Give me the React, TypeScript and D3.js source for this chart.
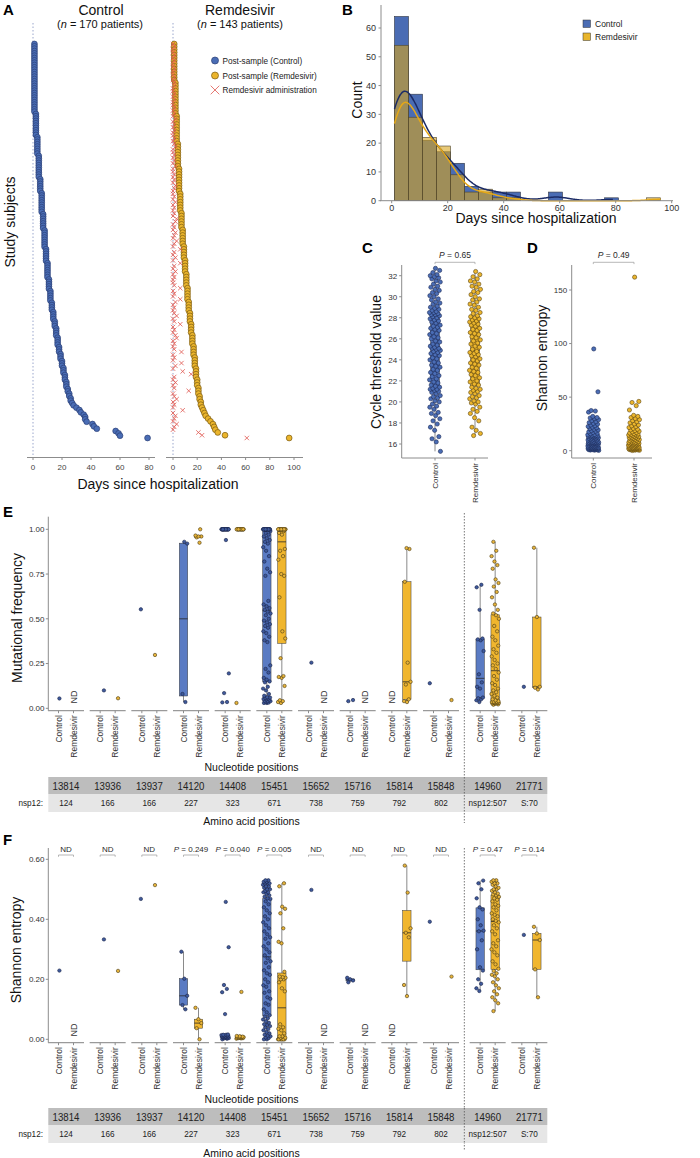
import React from 'react';
import * as d3 from 'd3';

const FONT = "'Liberation Sans', Arial, Helvetica, sans-serif";
const AX = '#8c8c8c';
const TXT = '#2a2a2a';
const C_FILL = '#4a6db5';
const C_STROKE = '#1e2c57';
const R_FILL = '#ebb52c';
const R_STROKE = '#5c4612';
const C_BOX = '#5a7bc3';
const R_BOX = '#f0b62e';

// ---------- Panel A / B data (days since hospitalization, run-length: [day, patients]) ----------
const controlDayRuns: [number, number][] = [
  [1, 30], [2, 10], [3, 8], [4, 10], [5, 6], [6, 9], [7, 7], [8, 8], [9, 6], [10, 7],
  [11, 5], [12, 5], [13, 4], [14, 4], [15, 3], [16, 4], [17, 4], [18, 3], [19, 3], [20, 3],
  [21, 3], [22, 3], [23, 3], [24, 2], [25, 2], [26, 2], [27, 1], [28, 1], [30, 1], [32, 1],
  [33, 1], [35, 1], [36, 2], [37, 1], [41, 1], [42, 1], [44, 1], [57, 1], [59, 1], [60, 1], [79, 1],
];
const remDayRuns: [number, number][] = [
  [1, 14], [2, 12], [3, 10], [4, 9], [5, 9], [6, 7], [7, 6], [8, 6], [9, 5], [10, 5],
  [11, 5], [12, 5], [13, 4], [14, 4], [15, 4], [16, 4], [17, 4], [18, 4], [19, 4], [20, 3],
  [21, 3], [22, 2], [23, 2], [24, 1], [25, 1], [26, 1], [27, 1], [29, 1], [31, 1], [33, 1],
  [34, 1], [35, 1], [37, 1], [43, 1], [96, 1],
];
const remAdminDays: number[] = [
  0, 1, 0, 0, 1, 0, 1, 0, 0, 1,
  0, 0, 1, 0, 1, 1, 0, 0, 1, 0,
  1, 0, 0, 1, 0, 1, 0, 2, 0, 1,
  0, 1, 0, 0, 1, 0, 1, 2, 0, 0,
  1, 0, 1, 0, 2, 0, 0, 1, 0, 1,
  0, 2, 1, 0, 0, 1, 0, 2, 0, 1,
  0, 1, 0, 3, 2, 0, 1, 0, 2, 1,
  0, 3, 1, 0, 6, 1, 0, 2, 0, 6,
  1, 0, 2, 0, 1, 0, 0, 1, 6, 0,
  1, 0, 6, 2, 0, 1, 0, 1, 3, 0,
  1, 6, 0, 1, 0, 2, 3, 0, 1, 0,
  1, 7, 0, 1, 0, 7, 2, 0, 8, 15,
  1, 0, 2, 0, 1, 13, 0, 1, 3, 0,
  1, 0, 8, 0, 2, 1, 0, 3, 1, 0,
  21, 24, 61,
];
const expandRuns = (runs: [number, number][]) => runs.flatMap(([d, n]) => Array.from({ length: n }, () => d));
const controlDays = expandRuns(controlDayRuns);
const remDays = expandRuns(remDayRuns);

// ---------- Panel C (cycle threshold) ----------
const ctControl = [
  15.3, 16.2, 16.5, 16.7, 17.3, 17.6, 17.9, 18.2, 18.4, 18.7, 18.9, 19.0, 19.3, 19.5, 19.6, 19.8, 20.0, 20.1, 20.3, 20.4,
  20.5, 20.6, 20.8, 20.9, 21.0, 21.1, 21.2, 21.2, 21.3, 21.4, 21.5, 21.6, 21.8, 21.9, 22.1, 22.2, 22.4, 22.5, 22.7, 22.8,
  23.0, 23.1, 23.3, 23.4, 23.5, 23.7, 23.8, 24.0, 24.1, 24.2, 24.4, 24.5, 24.6, 24.7, 24.8, 24.9, 25.0, 25.1, 25.1, 25.2,
  25.3, 25.4, 25.5, 25.7, 25.8, 26.0, 26.1, 26.2, 26.4, 26.5, 26.6, 26.8, 26.9, 27.0, 27.1, 27.2, 27.3, 27.5, 27.6, 27.7,
  27.8, 27.9, 28.0, 28.1, 28.2, 28.3, 28.3, 28.4, 28.5, 28.5, 28.6, 28.7, 28.8, 28.9, 29.0, 29.1, 29.3, 29.4, 29.5, 29.7,
  29.8, 30.0, 30.1, 30.3, 30.4, 30.6, 30.7, 30.9, 31.0, 31.2, 31.4, 31.5, 31.7, 31.8, 31.9, 32.0, 32.1, 32.3, 32.5, 32.7,
];
const ctRem = [
  16.8, 17.0, 17.3, 17.6, 18.2, 18.5, 18.9, 19.1, 19.3, 19.5, 19.8, 19.9, 20.0, 20.1, 20.3, 20.4, 20.5, 20.6, 20.8, 20.9,
  21.0, 21.1, 21.2, 21.3, 21.4, 21.6, 21.7, 21.9, 22.0, 22.2, 22.3, 22.5, 22.6, 22.8, 22.9, 23.0, 23.2, 23.3, 23.5, 23.6,
  23.7, 23.9, 24.0, 24.1, 24.3, 24.4, 24.5, 24.6, 24.7, 24.8, 25.0, 25.2, 25.3, 25.5, 25.6, 25.8, 25.9, 26.1, 26.2, 26.4,
  26.5, 26.6, 26.8, 26.9, 27.0, 27.2, 27.3, 27.4, 27.5, 27.6, 27.7, 27.8, 27.9, 28.0, 28.1, 28.2, 28.4, 28.5, 28.7, 28.8,
  29.0, 29.2, 29.3, 29.5, 29.7, 29.8, 30.0, 30.2, 30.4, 30.5, 30.7, 30.9, 31.0, 31.2, 31.4, 31.5, 31.7, 31.9, 32.1, 32.4,
];

// ---------- Panel D (Shannon entropy per patient) ----------
const entropyControl = [
  0.3, 0.5, 0.6, 0.8, 0.9, 1.0, 1.1, 1.2, 1.4, 1.5, 1.6, 1.7, 1.8, 1.9, 2.0, 2.1, 2.2, 2.3, 2.4, 2.5,
  2.6, 2.7, 2.8, 2.9, 3.0, 3.1, 3.2, 3.3, 3.4, 3.5, 3.7, 3.9, 4.0, 4.2, 4.4, 4.5, 4.7, 4.9, 5.0, 5.2,
  5.4, 5.5, 5.7, 5.9, 6.0, 6.2, 6.4, 6.5, 6.7, 6.9, 7.0, 7.1, 7.2, 7.3, 7.4, 7.5, 7.6, 7.7, 7.8, 7.9,
  8.1, 8.3, 8.5, 8.8, 9.0, 9.3, 9.5, 9.8, 10.0, 10.3, 10.5, 10.8, 11.0, 11.3, 11.5, 11.8, 12.0, 12.3, 12.5, 12.8,
  13.0, 13.2, 13.4, 13.6, 13.8, 14.0, 14.2, 14.4, 14.6, 14.8, 15.2, 15.8, 16.4, 17.0, 17.6, 18.2, 18.8, 19.4, 20.0, 20.7,
  21.4, 22.0, 22.6, 23.3, 24.0, 24.8, 25.5, 26.2, 27.0, 28.0, 29.0, 30.0, 30.5, 31.0, 32.0, 36.0, 37.0, 37.5, 55.0, 95.0,
];
const entropyRem = [
  0.2, 0.4, 0.5, 0.7, 0.8, 1.0, 1.1, 1.2, 1.3, 1.5, 1.6, 1.7, 1.8, 1.9, 2.0, 2.1, 2.2, 2.3, 2.4, 2.5,
  2.6, 2.7, 2.8, 2.9, 3.0, 3.2, 3.4, 3.6, 3.8, 4.0, 4.2, 4.4, 4.6, 4.8, 5.0, 5.2, 5.4, 5.6, 5.8, 6.0,
  6.2, 6.4, 6.6, 6.8, 7.0, 7.2, 7.4, 7.6, 7.8, 8.0, 8.3, 8.6, 9.0, 9.3, 9.6, 10.0, 10.3, 10.6, 11.0, 11.3,
  11.6, 12.0, 12.3, 12.6, 13.0, 13.3, 13.6, 14.0, 14.3, 14.6, 15.0, 15.3, 15.6, 16.0, 16.5, 17.0, 17.6, 18.2, 18.8, 19.4,
  20.0, 20.8, 21.6, 22.4, 23.2, 24.0, 25.0, 26.0, 27.0, 28.0, 29.0, 30.0, 31.0, 32.0, 33.0, 38.0, 42.0, 45.0, 46.0, 162.0,
];

// ---------- Panels E / F ----------
const nucleotidePositions = ['13814', '13936', '13937', '14120', '14408', '15451', '15652', '15716', '15814', '15848', '14960', '21771'];
const aminoAcidPositions = ['124', '166', '166', '227', '323', '671', '738', '759', '792', '802', 'nsp12:507', 'S:70'];
const ones = (n: number) => Array.from({ length: n }, () => 1);

const mutFreqControl: number[][] = [
  [0.055],
  [0.10],
  [0.553],
  [0.035, 0.08, 0.92, 0.93],
  [0.033, 0.035, 0.085, 0.195, 0.94, ...ones(22)],
  [0.03, 0.03, 0.032, 0.035, 0.04, 0.04, 0.042, 0.048, 0.05, 0.052, 0.055, 0.058, 0.06, 0.062, 0.07, 0.08, 0.1, 0.11, 0.12, 0.145,
    0.15, 0.16, 0.17, 0.2, 0.22, 0.24, 0.37, 0.38, 0.4, 0.42, 0.43, 0.45, 0.46, 0.47, 0.48, 0.49, 0.5, 0.52, 0.53, 0.54,
    0.55, 0.56, 0.57, 0.58, 0.6, 0.74, 0.76, 0.78, 0.82, 0.85, 0.88, 0.9, 0.92, 0.93, 0.94, 0.95, 0.96, 0.97, 0.98, 0.99,
    ...ones(20)],
  [0.255],
  [0.04, 0.046],
  [],
  [0.14],
  [0.035, 0.045, 0.05, 0.056, 0.06, 0.11, 0.12, 0.145, 0.19, 0.32, 0.38, 0.385, 0.39, 0.55, 0.676, 0.69],
  [0.12],
];
const mutFreqRem: number[][] = [
  [],
  [0.056],
  [0.298],
  [0.925, 0.955, 0.96, 0.96, 0.965, 1.0],
  [0.03, ...ones(16)],
  [0.03, 0.035, 0.04, 0.045, 0.125, 0.17, 0.175, 0.18, 0.28, 0.39, 0.43, 0.62, 0.74, 0.75, 0.83, 0.85, 0.88, 0.89, 0.97, 0.98, 0.99, ...ones(15)],
  [],
  [],
  [0.035, 0.04, 0.05, 0.133, 0.148, 0.255, 0.707, 0.89, 0.895],
  [0.046],
  [0.02, 0.022, 0.025, 0.027, 0.028, 0.03, 0.03, 0.031, 0.032, 0.033, 0.034, 0.035, 0.036, 0.037,
    0.04, 0.045, 0.05, 0.06, 0.07, 0.08, 0.09, 0.1, 0.11, 0.13, 0.14, 0.16, 0.18, 0.2,
    0.22, 0.24, 0.25, 0.27, 0.29, 0.31, 0.33, 0.35, 0.38, 0.4, 0.43, 0.46, 0.5, 0.52,
    0.53, 0.55, 0.58, 0.62, 0.65, 0.68, 0.7, 0.72, 0.78, 0.8, 0.82, 0.85, 0.88, 0.93],
  [0.105, 0.115, 0.12, 0.51, 0.897],
];

const entControl: number[][] = [
  [0.229],
  [0.333],
  [0.468],
  [0.10, 0.114, 0.145, 0.202, 0.292],
  [0.0, 0.002, 0.003, 0.004, 0.005, 0.005, 0.006, 0.007, 0.008, 0.008, 0.009, 0.01, 0.01, 0.011, 0.012, 0.013, 0.014, 0.015, 0.015, 0.016,
    0.084, 0.157, 0.168, 0.181, 0.307, 0.458],
  [0.0, 0.0, 0.004, 0.006, 0.01, 0.012, 0.015, 0.02, 0.024, 0.03, 0.034, 0.04, 0.044, 0.048, 0.05, 0.055, 0.06, 0.066, 0.07, 0.076,
    0.08, 0.09, 0.1, 0.115, 0.12, 0.135, 0.14, 0.155, 0.16, 0.175, 0.18, 0.19, 0.2, 0.215, 0.22, 0.23, 0.24, 0.255, 0.26, 0.27,
    0.28, 0.29, 0.3, 0.31, 0.32, 0.335, 0.34, 0.35, 0.36, 0.37, 0.38, 0.39, 0.4, 0.41, 0.42, 0.43, 0.44, 0.45, 0.46, 0.468,
    0.47, 0.475, 0.48, 0.485, 0.49, 0.49, 0.495, 0.5, 0.5, 0.505, 0.51, 0.51, 0.515, 0.52, 0.52, 0.52, 0.525, 0.525, 0.53, 0.53],
  [0.498],
  [0.19, 0.196, 0.2, 0.205],
  [],
  [0.392],
  [0.161, 0.17, 0.185, 0.2, 0.229, 0.24, 0.3, 0.33, 0.36, 0.362, 0.38, 0.4, 0.433, 0.44, 0.47, 0.5, 0.52, 0.529],
  [0.348],
];
const entRem: number[][] = [
  [],
  [0.228],
  [0.514],
  [0.0, 0.037, 0.054, 0.067, 0.105],
  [0.002, 0.003, 0.004, 0.004, 0.005, 0.005, 0.006, 0.006, 0.007, 0.008, 0.008, 0.009, 0.01, 0.011, 0.158],
  [0, 0, 0, 0, 0, 0, 0, 0, 0.005, 0.005, 0.01, 0.01, 0.02, 0.03, 0.035, 0.04, 0.05,
    0.16, 0.17, 0.19, 0.2, 0.2, 0.205, 0.207, 0.209, 0.225, 0.32, 0.325, 0.37, 0.42, 0.435, 0.442, 0.51, 0.52],
  [],
  [],
  [0.144, 0.181, 0.34, 0.355, 0.37, 0.489, 0.579],
  [0.209],
  [0.094, 0.12, 0.13, 0.14, 0.15, 0.16, 0.17, 0.18, 0.19, 0.2, 0.21, 0.215, 0.22, 0.228,
    0.235, 0.25, 0.26, 0.28, 0.29, 0.3, 0.31, 0.32, 0.33, 0.35, 0.36, 0.37, 0.38, 0.39,
    0.395, 0.4, 0.41, 0.415, 0.42, 0.43, 0.44, 0.445, 0.45, 0.46, 0.465, 0.47, 0.475, 0.48,
    0.483, 0.486, 0.49, 0.495, 0.5, 0.5, 0.505, 0.51, 0.515, 0.52, 0.52, 0.525, 0.53, 0.53],
  [0.14, 0.233, 0.331, 0.353, 0.375],
];
const fTopLabels = ['ND', 'ND', 'ND', 'P = 0.249', 'P = 0.040', 'P = 0.005', 'ND', 'ND', 'ND', 'ND', 'P = 0.47', 'P = 0.14'];

// ---------- helpers ----------
const jit = (i: number, seed: number) => ((((i + 1) * 0.6180339887 + seed * 0.377) % 1) - 0.5);

function boxStats(vals: number[]) {
  const s = [...vals].sort(d3.ascending);
  const q1 = d3.quantileSorted(s, 0.25) as number;
  const med = d3.quantileSorted(s, 0.5) as number;
  const q3 = d3.quantileSorted(s, 0.75) as number;
  const iqr = q3 - q1;
  const lo = d3.min(s.filter((v) => v >= q1 - 1.5 * iqr)) as number;
  const hi = d3.max(s.filter((v) => v <= q3 + 1.5 * iqr)) as number;
  return { q1, med, q3, lo, hi };
}

function T({ x, y, children, size = 8, anchor = 'start', rotate = 0, sx = 1, weight = 400, fill = TXT, italic = false }: any) {
  return (
    <text transform={`translate(${x},${y}) rotate(${rotate}) scale(${sx},1)`} fontSize={size} textAnchor={anchor}
      fontWeight={weight} fill={fill} fontFamily={FONT} fontStyle={italic ? 'italic' : 'normal'}>{children}</text>
  );
}

function PLabel({ x, y, text, size = 8 }: any) {
  const isP = text.startsWith('P');
  return (
    <text x={x} y={y} fontSize={size} textAnchor="middle" fill={TXT} fontFamily={FONT}>
      {isP ? (<><tspan fontStyle="italic">P</tspan>{text.slice(1)}</>) : text}
    </text>
  );
}

function Bracket({ x1, x2, y }: any) {
  return <path d={`M${x1},${y + 1.8}V${y}H${x2}V${y + 1.8}`} fill="none" stroke="#9a9a9a" strokeWidth={0.7} />;
}

function BoxAndPoints({ cx, vals, y, half, boxFill, ptFill, ptStroke, r, jw, seed }: any) {
  if (!vals.length) return null;
  const st = vals.length >= 3 ? boxStats(vals) : null;
  return (
    <g>
      {st && (
        <g>
          <line x1={cx} x2={cx} y1={y(st.lo)} y2={y(st.hi)} stroke="#8a8a8a" strokeWidth={1} />
          <rect x={cx - half} width={half * 2} y={y(st.q3)} height={Math.max(0.6, y(st.q1) - y(st.q3))}
            fill={boxFill} stroke="#3a3a3a" strokeWidth={0.5} />
          <line x1={cx - half} x2={cx + half} y1={y(st.med)} y2={y(st.med)} stroke="#2a2a2a" strokeWidth={0.8} />
        </g>
      )}
      {vals.map((v: number, i: number) => (
        <circle key={i} cx={cx + jit(i, seed) * 2 * jw} cy={y(v)} r={r} fill={ptFill} stroke={ptStroke} strokeWidth={0.6} />
      ))}
    </g>
  );
}

// ---------- Panel A ----------
function PanelA() {
  const xC = d3.scaleLinear().domain([0, 80]).range([33, 149]);
  const xR = d3.scaleLinear().domain([0, 100]).range([173, 294]);
  const yC = d3.scaleLinear().domain([0, controlDays.length - 1]).range([44, 438]);
  const yR = d3.scaleLinear().domain([0, remDays.length - 1]).range([44, 438]);
  const axisY = 457.5;
  const cross = (x: number, y: number, s: number, k: any) => (
    <path key={k} d={`M${x - s},${y - s}L${x + s},${y + s}M${x - s},${y + s}L${x + s},${y - s}`} stroke="#e0574f" strokeWidth={0.8} fill="none" />
  );
  return (
    <g>
      <T x={3} y={15} size={15} weight={700} fill="#000">A</T>
      <T x={101} y={15} size={14} anchor="middle" fill="#111">Control</T>
      <text x={100} y={28} fontSize={11} textAnchor="middle" fill="#111" fontFamily={FONT}>(<tspan fontStyle="italic">n</tspan> = 170 patients)</text>
      <T x={240} y={15} size={14} anchor="middle" fill="#111">Remdesivir</T>
      <text x={240} y={28} fontSize={11} textAnchor="middle" fill="#111" fontFamily={FONT}>(<tspan fontStyle="italic">n</tspan> = 143 patients)</text>
      <T x={15} y={222} size={14} anchor="middle" rotate={-90} fill="#111">Study subjects</T>

      <line x1={xC(0)} x2={xC(0)} y1={23} y2={axisY} stroke="#9aa6cc" strokeWidth={1} strokeDasharray="1.5,2" />
      <line x1={xR(0)} x2={xR(0)} y1={23} y2={axisY} stroke="#9aa6cc" strokeWidth={1} strokeDasharray="1.5,2" />

      <line x1={27} x2={155} y1={axisY} y2={axisY} stroke={AX} strokeWidth={1} />
      {xC.ticks(4).map((t) => (
        <g key={'c' + t}>
          <line x1={xC(t)} x2={xC(t)} y1={axisY} y2={axisY + 2.5} stroke={AX} />
          <T x={xC(t)} y={470} size={8} anchor="middle" fill="#444">{t}</T>
        </g>
      ))}
      <line x1={166} x2={303} y1={axisY} y2={axisY} stroke={AX} strokeWidth={1} />
      {[0, 20, 40, 60, 80, 100].map((t) => (
        <g key={'r' + t}>
          <line x1={xR(t)} x2={xR(t)} y1={axisY} y2={axisY + 2.5} stroke={AX} />
          <T x={xR(t)} y={470} size={8} anchor="middle" fill="#444">{t}</T>
        </g>
      ))}
      <T x={158} y={489} size={14} anchor="middle" fill="#111">Days since hospitalization</T>

      {controlDays.map((d, i) => (
        <circle key={'cp' + i} cx={xC(d)} cy={yC(i)} r={2.9} fill={C_FILL} stroke="#2b3f75" strokeWidth={0.7} />
      ))}
      {remDays.map((d, i) => (
        <circle key={'rp' + i} cx={xR(d)} cy={yR(i)} r={2.9} fill={R_FILL} stroke="#7a5a12" strokeWidth={0.7} />
      ))}
      {remAdminDays.map((d, i) => cross(xR(d), yR(i), 2.2, 'x' + i))}

      {/* legend */}
      <circle cx={215} cy={60.5} r={3.5} fill={C_FILL} stroke="#2b3f75" strokeWidth={0.7} />
      <T x={222.5} y={63.5} size={8.2} fill="#222">Post-sample (Control)</T>
      <circle cx={215} cy={75.5} r={3.5} fill={R_FILL} stroke="#7a5a12" strokeWidth={0.7} />
      <T x={222.5} y={78.5} size={8.2} fill="#222">Post-sample (Remdesivir)</T>
      {cross(215, 90, 4.3, 'lx')}
      <T x={222.5} y={93} size={8.2} fill="#222">Remdesivir administration</T>
    </g>
  );
}

// ---------- Panel B ----------
function kdeCounts(data: number[], binWidth: number) {
  const n = data.length;
  const sd = d3.deviation(data) as number;
  const h = sd * Math.pow(n, -0.2);
  const lo = d3.min(data) as number, hi = d3.max(data) as number;
  const xs = d3.range(lo, hi + 0.001, 0.5);
  return xs.map((x) => [x, (d3.sum(data, (v) => Math.exp(-0.5 * ((x - v) / h) ** 2)) / (n * h * Math.sqrt(2 * Math.PI))) * n * binWidth] as [number, number]);
}

function PanelB() {
  const x = d3.scaleLinear().domain([0, 100]).range([391.7, 671.7]);
  const y = d3.scaleLinear().domain([0, 60]).range([200.7, 28]);
  const binner = d3.bin().domain([1, 96]).thresholds(d3.range(6, 96, 5));
  const cb = binner(controlDays);
  const rb = binner(remDays);
  const line = d3.line<[number, number]>().x((d) => x(d[0])).y((d) => y(d[1])).curve(d3.curveBasis);
  const kc = kdeCounts(controlDays, 5);
  const kr = kdeCounts(remDays, 5);
  return (
    <g>
      <T x={342} y={15} size={15} weight={700} fill="#000">B</T>
      {cb.filter((b) => b.length > 0).map((b, i) => (
        <rect key={'cb' + i} x={x(b.x0 as number)} width={x(b.x1 as number) - x(b.x0 as number)} y={y(b.length)} height={y(0) - y(b.length)}
          fill="#4a6cb4" stroke="#2f3440" strokeWidth={0.6} />
      ))}
      {rb.filter((b) => b.length > 0).map((b, i) => (
        <rect key={'rb' + i} x={x(b.x0 as number)} width={x(b.x1 as number) - x(b.x0 as number)} y={y(b.length)} height={y(0) - y(b.length)}
          fill="#d9a51c" fillOpacity={0.6} stroke="#4a4330" strokeWidth={0.6} />
      ))}
      <path d={line(kc) as string} fill="none" stroke="#1b2b66" strokeWidth={1.5} />
      <path d={line(kr) as string} fill="none" stroke="#e6a816" strokeWidth={1.5} />

      <line x1={381} x2={381} y1={5} y2={200.7} stroke={AX} />
      {y.ticks(6).map((t) => (
        <g key={'by' + t}>
          <line x1={378.5} x2={381} y1={y(t)} y2={y(t)} stroke={AX} />
          <T x={376} y={y(t) + 3.2} size={9} anchor="end" fill="#333">{t}</T>
        </g>
      ))}
      <line x1={380} x2={673} y1={200.7} y2={200.7} stroke={AX} />
      {x.ticks(5).map((t) => (
        <g key={'bx' + t}>
          <line x1={x(t)} x2={x(t)} y1={200.7} y2={203.2} stroke={AX} />
          <T x={x(t)} y={210.5} size={9} anchor="middle" fill="#333">{t}</T>
        </g>
      ))}
      <T x={361.5} y={100} size={14} anchor="middle" rotate={-90} fill="#111">Count</T>
      <T x={536} y={223} size={14} anchor="middle" fill="#111">Days since hospitalization</T>

      <rect x={583} y={20} width={7.5} height={7.5} fill="#4a6cb4" stroke="#333" strokeWidth={0.5} />
      <T x={595} y={26.8} size={8.5} fill="#222">Control</T>
      <rect x={583} y={33} width={7.5} height={7.5} fill="#e8b52c" stroke="#333" strokeWidth={0.5} />
      <T x={595} y={39.8} size={8.5} fill="#222">Remdesivir</T>
    </g>
  );
}

// ---------- Panels C / D ----------
function TwoGroup({ axisX, xEnd, y, ticks, fmt, cx, rx, ctrl, rem, p, ylabel, ylabelX, ylabelY }: any) {
  return (
    <g>
      <BoxAndPoints cx={cx} vals={ctrl} y={y} half={4.5} boxFill={C_BOX} ptFill={C_FILL} ptStroke={C_STROKE} r={2.1} jw={5.5} seed={1} />
      <BoxAndPoints cx={rx} vals={rem} y={y} half={4.5} boxFill={R_BOX} ptFill={R_FILL} ptStroke={R_STROKE} r={2.1} jw={5.5} seed={2} />
      <line x1={axisX} x2={axisX} y1={265} y2={458} stroke={AX} />
      <line x1={axisX} x2={xEnd} y1={458} y2={458} stroke={AX} />
      {ticks.map((t: number) => (
        <g key={t}>
          <line x1={axisX - 2.5} x2={axisX} y1={y(t)} y2={y(t)} stroke={AX} />
          <T x={axisX - 4.5} y={y(t) + 2.9} size={8} anchor="end" fill="#333">{fmt(t)}</T>
        </g>
      ))}
      {[cx, rx].map((xx: number, i: number) => (
        <g key={'l' + i}>
          <line x1={xx} x2={xx} y1={458} y2={460.5} stroke={AX} />
          <T x={xx + 3} y={463} size={8} anchor="end" rotate={-90} fill="#333">{i === 0 ? 'Control' : 'Remdesivir'}</T>
        </g>
      ))}
      <PLabel x={(cx + rx) / 2} y={257.5} text={p} size={8.5} />
      <Bracket x1={cx} x2={rx} y={262.3} />
      <T x={ylabelX} y={ylabelY} size={14} anchor="middle" rotate={-90} fill="#111">{ylabel}</T>
    </g>
  );
}

function PanelCD() {
  const yC = d3.scaleLinear().domain([16, 32]).range([444, 275.7]);
  const yD = d3.scaleLinear().domain([0, 150]).range([450.7, 290]);
  return (
    <g>
      <T x={362} y={253} size={15} weight={700} fill="#000">C</T>
      <T x={527} y={253} size={15} weight={700} fill="#000">D</T>
      <TwoGroup axisX={401.7} xEnd={488} y={yC} ticks={d3.range(16, 33, 2)} fmt={d3.format('d')} cx={435} rx={475}
        ctrl={ctControl} rem={ctRem} p="P = 0.65" ylabel="Cycle threshold value" ylabelX={380.5} ylabelY={362} />
      <TwoGroup axisX={571.7} xEnd={652} y={yD} ticks={[0, 50, 100, 150]} fmt={d3.format('d')} cx={593.3} rx={634}
        ctrl={entropyControl} rem={entropyRem} p="P = 0.49" ylabel="Shannon entropy" ylabelX={547} ylabelY={358} />
    </g>
  );
}

// ---------- Panels E / F ----------
function GroupPanel(p: any) {
  const y = d3.scaleLinear().domain(p.domain).range(p.range);
  const gx = d3.scaleLinear().domain([0, 9]).range([66, 441]);
  const gc = (i: number) => gx(i) + (i >= 10 ? 5 : 0);
  const dx = 7.5;
  const sep = (gc(9) + gc(10)) / 2;
  const fmt = d3.format('.2f');
  return (
    <g>
      <T x={3} y={p.letterY} size={15} weight={700} fill="#000">{p.letter}</T>
      <line x1={48.3} x2={48.3} y1={p.axisTop} y2={p.axisY} stroke={AX} />
      {p.ticks.map((t: number) => (
        <g key={t}>
          <line x1={45.8} x2={48.3} y1={y(t)} y2={y(t)} stroke={AX} />
          <T x={44.5} y={y(t) + 2.8} size={8} anchor="end" fill="#333">{fmt(t)}</T>
        </g>
      ))}
      <T x={p.ylabelX} y={p.ylabelY} size={14} anchor="middle" rotate={-90} fill="#111">{p.ylabel}</T>
      <line x1={sep} x2={sep} y1={p.dotTop} y2={p.dotBottom} stroke="#555" strokeWidth={0.8} strokeDasharray="1.5,1.5" />

      {nucleotidePositions.map((pos, i) => {
        const c = gc(i);
        const cxp = c - dx, rxp = c + dx;
        const cv = p.ctrl[i], rv = p.rem[i];
        return (
          <g key={pos + i}>
            <line x1={c - 18} x2={c + 18} y1={p.axisY} y2={p.axisY} stroke="#9a9a9a" strokeWidth={1.2} />
            <line x1={cxp} x2={cxp} y1={p.axisY} y2={p.axisY + 2.5} stroke={AX} />
            <line x1={rxp} x2={rxp} y1={p.axisY} y2={p.axisY + 2.5} stroke={AX} />
            <T x={cxp + 3} y={p.axisY + 4.5} size={8.5} anchor="end" rotate={-90} fill="#333">Control</T>
            <T x={rxp + 3} y={p.axisY + 4.5} size={8.5} anchor="end" rotate={-90} fill="#333">Remdesivir</T>
            <BoxAndPoints cx={cxp} vals={cv} y={y} half={4.2} boxFill={C_BOX} ptFill="#3f5a9c" ptStroke="#1a2448" r={1.7} jw={3.8} seed={i} />
            <BoxAndPoints cx={rxp} vals={rv} y={y} half={4.2} boxFill={R_BOX} ptFill="#e8b43a" ptStroke="#4a3b12" r={1.7} jw={3.8} seed={i + 5} />
            {cv.length === 0 && <T x={cxp + 3} y={p.axisY - p.ndOffset} size={9} rotate={-90} fill="#333">ND</T>}
            {rv.length === 0 && <T x={rxp + 3} y={p.axisY - p.ndOffset} size={9} rotate={-90} fill="#333">ND</T>}
            {p.topLabels && (
              <g>
                <PLabel x={c} y={p.topY} text={p.topLabels[i]} size={8} />
                <Bracket x1={cxp} x2={rxp} y={p.topY + 3} />
              </g>
            )}
          </g>
        );
      })}

      <T x={251.5} y={p.nucY} size={10.5} anchor="middle" fill="#111">Nucleotide positions</T>
      <rect x={48.3} y={p.tableY} width={499} height={17} fill="#bdbdbd" />
      <rect x={48.3} y={p.tableY + 17} width={499} height={18} fill="#e6e6e6" />
      <line x1={sep} x2={sep} y1={p.tableY} y2={p.tableY + 35} stroke="#555" strokeWidth={0.8} strokeDasharray="1.5,1.5" />
      {nucleotidePositions.map((pos, i) => (
        <T key={'n' + i} x={gc(i)} y={p.tableY + 12.5} size={10.5} sx={0.92} anchor="middle" fill="#222">{pos}</T>
      ))}
      <T x={43} y={p.tableY + 29} size={8.2} anchor="end" fill="#222">nsp12:</T>
      {aminoAcidPositions.map((a, i) => (
        <T key={'a' + i} x={gc(i)} y={p.tableY + 29} size={8.2} anchor="middle" fill="#222">{a}</T>
      ))}
      <T x={251.5} y={p.aminoY} size={10.5} anchor="middle" fill="#111">Amino acid positions</T>
    </g>
  );
}

export default function App() {
  return (
    <svg width={700} height={1158} viewBox="0 0 700 1158" style={{ position: 'absolute', left: 0, top: 0 }} fontFamily={FONT}>
      <rect width={700} height={1158} fill="#fff" />
      <PanelA />
      <PanelB />
      <PanelCD />
      <GroupPanel letter="E" letterY={517} domain={[0, 1]} range={[708.3, 529.3]} ticks={[0, 0.25, 0.5, 0.75, 1]}
        axisTop={516.7} axisY={710.7} ctrl={mutFreqControl} rem={mutFreqRem} ndOffset={7.2}
        ylabel="Mutational frequency" ylabelX={22} ylabelY={618}
        dotTop={513} dotBottom={823} nucY={770.5} tableY={777} aminoY={824.5} />
      <GroupPanel letter="F" letterY={845} domain={[0, 0.6]} range={[1039.3, 859.3]} ticks={[0, 0.2, 0.4, 0.6]}
        axisTop={848} axisY={1042.7} ctrl={entControl} rem={entRem} ndOffset={6.3}
        ylabel="Shannon entropy" ylabelX={20.5} ylabelY={950} topLabels={fTopLabels} topY={852}
        dotTop={848} dotBottom={1150} nucY={1103} tableY={1108} aminoY={1156.5} />
    </svg>
  );
}
